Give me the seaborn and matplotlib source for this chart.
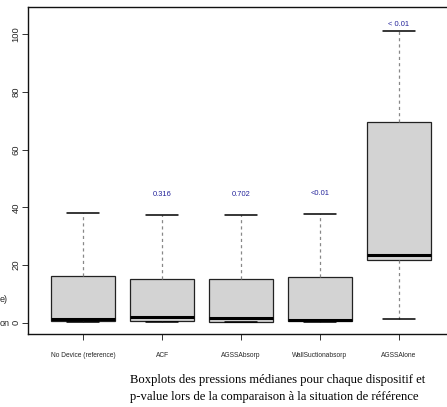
import numpy as np
import pandas as pd
import matplotlib
matplotlib.use("Agg")
import matplotlib.pyplot as plt
import seaborn as sns

categories = ["No Device (reference)", "ACF", "AGSSAbsorp", "WallSuctionabsorp", "AGSSAlone"]
mins = [0.2, 0.25, 0.2, 0.3, 1.3]
q1s = [0.5, 0.6, 0.4, 0.6, 21.7]
medians = [1.2, 1.9, 1.5, 1.0, 23.3]
q3s = [16.2, 15.1, 15.1, 15.9, 69.5]
maxs = [37.9, 37.3, 37.3, 37.8, 101.1]
pvalues = ["", "0.316", "0.702", "<0.01", "< 0.01"]
yticks = [0, 20, 40, 60, 80, 100]

rows = []
for c, a, b, m, d, e in zip(categories, mins, q1s, medians, q3s, maxs):
    for v in (a, b, m, d, e):
        rows.append({"device": c, "pression": v})
df = pd.DataFrame(rows)

sns.set_theme(style="white")
plt.rcParams["font.family"] = ["Liberation Sans", "DejaVu Sans"]

fig = plt.figure(figsize=(4.47, 4.07), dpi=100)
W, H = 447, 407
left, right, top, bottom = 28, 454, 7, 334
ax = fig.add_axes([left / W, 1 - bottom / H, (right - left) / W, (bottom - top) / H])

sns.boxplot(data=df, x="device", y="pression", order=categories, ax=ax,
            whis=np.inf, width=0.81, color="#d3d3d3", saturation=1,
            linecolor="#222222", linewidth=0.9,
            boxprops=dict(facecolor="#d3d3d3", edgecolor="#222222", linewidth=0.9),
            whiskerprops=dict(color="#888888", linestyle=(0, (2.5, 2.5)), linewidth=0.9),
            capprops=dict(color="black", linewidth=1.1),
            medianprops=dict(color="black", linewidth=2.2),
            showfliers=False)

ymin, ymax = -3.9, 109.4
ax.set_xlim(-0.7, 4.7)
ax.set_ylim(ymin, ymax)
ax.set_xlabel("")
ax.set_ylabel("")
ax.set_yticks(yticks)
ax.set_yticklabels([str(t) for t in yticks], rotation=90, va="center", fontsize=6.8)
ax.set_xticks(range(len(categories)))
ax.set_xticklabels(categories, fontsize=4.8, family=["Liberation Sans Narrow", "Liberation Sans", "DejaVu Sans"])
ax.tick_params(axis="both", which="both", direction="out", length=4, width=0.7,
               color="#333333", left=True, bottom=True)
ax.tick_params(axis="y", pad=1.5)
ax.tick_params(axis="x", pad=9)
for s in ax.spines.values():
    s.set_color("#111111")
    s.set_linewidth(1.0)

for i, (p, mx) in enumerate(zip(pvalues, maxs)):
    if p:
        ax.text(i, min(mx + 7.0, ymax - 6.0), p, ha="center", va="center", color="#23239a",
                fontsize=5.4, family=["Liberation Sans Narrow", "Liberation Sans", "DejaVu Sans"])

fig.text(0, 1 - 300 / H, "e)", ha="left", va="center", fontsize=6.5, rotation=0)
fig.text(0, 1 - 323 / H, "on", ha="left", va="center", fontsize=6.5, rotation=0)

cap_font = ["Liberation Serif", "DejaVu Serif"]
fig.text(130 / W, 1 - 380 / H, "Boxplots des pressions médianes pour chaque dispositif et",
         ha="left", va="center", fontsize=9.1, family=cap_font, color="black")
fig.text(130 / W, 1 - 397 / H, "p-value lors de la comparaison à la situation de référence",
         ha="left", va="center", fontsize=9.1, family=cap_font, color="black")

fig.savefig("out.png", dpi=100)
